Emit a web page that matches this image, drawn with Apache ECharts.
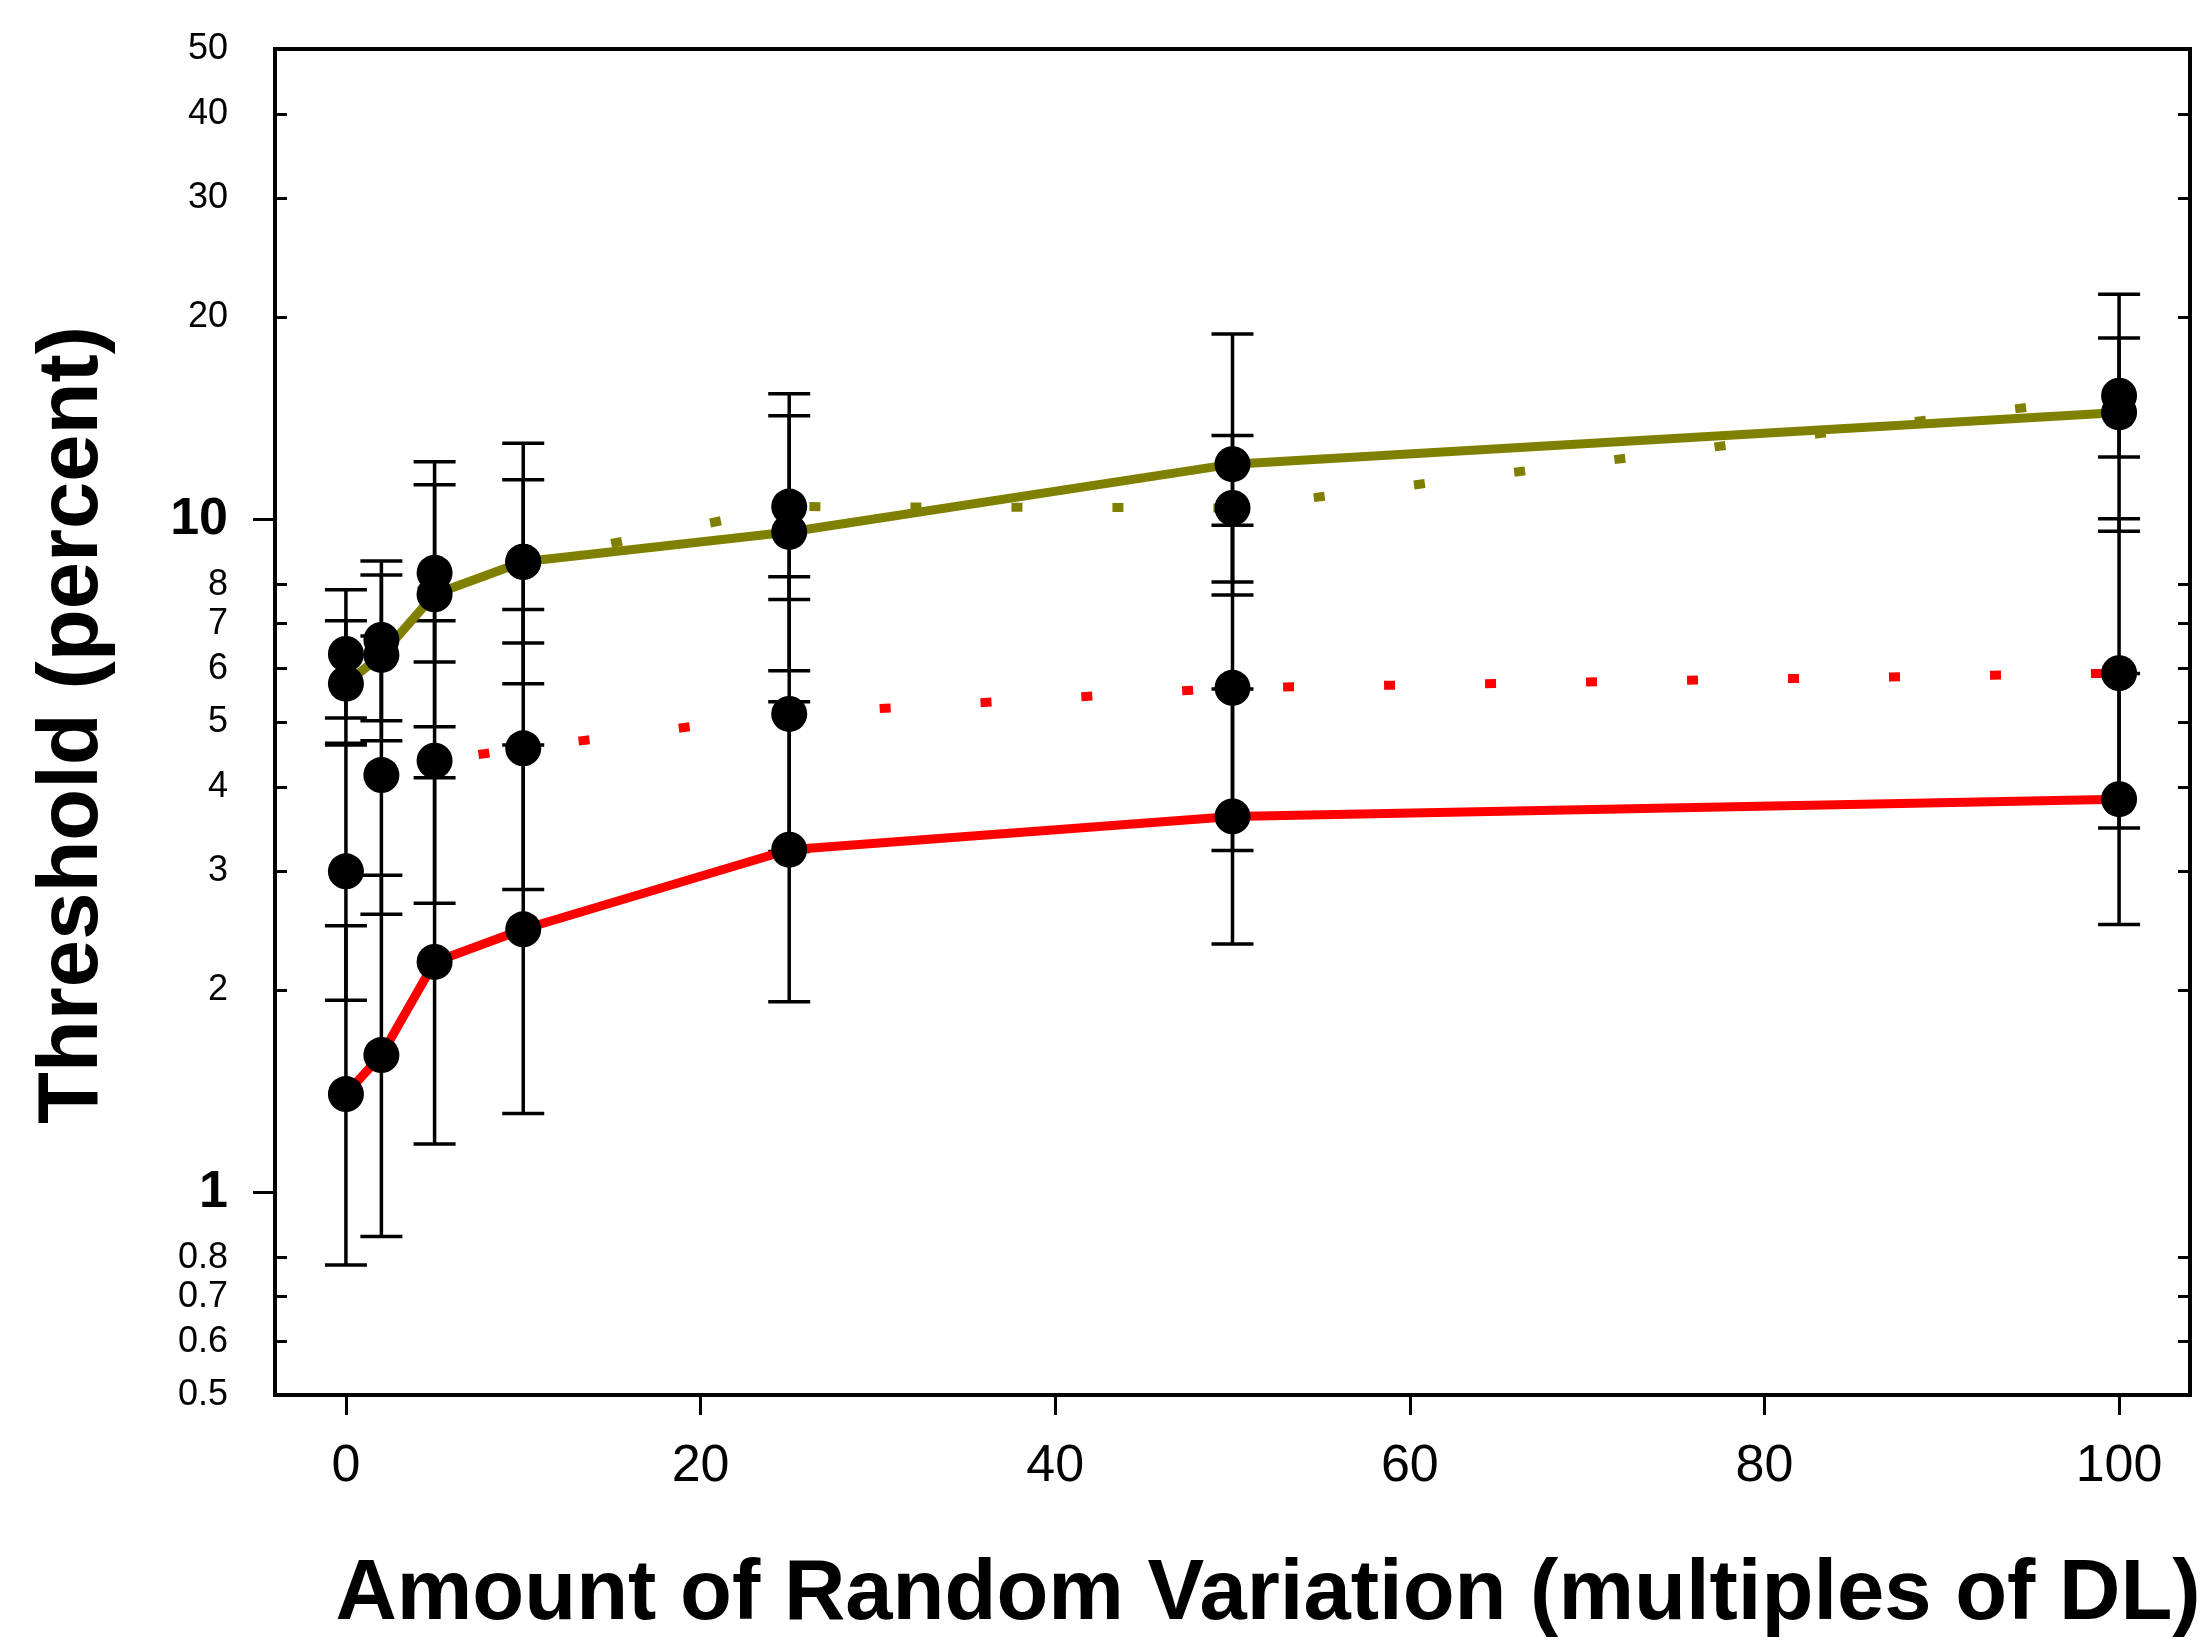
<!DOCTYPE html>
<html><head><meta charset="utf-8">
<script src="https://cdn.jsdelivr.net/npm/echarts@6/dist/echarts.min.js"></script>
<style>html,body{margin:0;padding:0;background:#fff}#c{width:2205px;height:1643px}</style>
</head><body><div id="c"></div><script>
// ---- data ----
const xValues = [0, 2, 5, 10, 25, 50, 100];

const oliveSolid     = [5.70, 6.29, 7.74, 8.65, 9.58, 12.08, 14.42];
const oliveSolidLow  = [4.62, 4.69, 4.92, 5.70, 5.96, 7.72, 9.60];
const oliveSolidHigh = [7.07, 8.27, 11.26, 12.98, 14.26, 18.86, 21.6];

const oliveDotted     = [6.31, 6.62, 8.33, 8.65, 10.45, 10.4, 15.27];
const oliveDottedLow  = [5.07, 5.02, 6.14, 6.55, 7.60, 8.07, 12.38];
const oliveDottedHigh = [7.86, 8.67, 12.18, 11.45, 15.37, 13.32, 18.6];

const redDotted     = [3.0, 4.17, 4.38, 4.57, 5.14, 5.62, 5.91];
const redDottedLow  = [1.93, 2.59, 2.69, 2.82, 3.21, 3.22, 3.48];
const redDottedHigh = [4.65, 6.71, 7.07, 7.35, 8.22, 9.80, 10.02];

const redSolid     = [1.40, 1.60, 2.20, 2.46, 3.23, 3.62, 3.84];
const redSolidLow  = [0.78, 0.86, 1.18, 1.31, 1.92, 2.34, 2.50];
const redSolidHigh = [2.49, 2.96, 4.13, 4.62, 5.36, 5.60, 5.90];

const xTickValues = [0, 20, 40, 60, 80, 100];
const yTickLabels = [0.5, 0.6, 0.7, 0.8, 1, 2, 3, 4, 5, 6, 7, 8, 10, 20, 30, 40, 50];
const yMajorTicks = [1, 10];
const yMinorTicks = [0.6, 0.7, 0.8, 2, 3, 4, 5, 6, 7, 8, 20, 30, 40];

const xTitle = 'Amount of Random Variation (multiples of DL)';
const yTitle = 'Threshold (percent)';

// ---- chart ----
const FONT = '"Liberation Sans", Arial, Helvetica, sans-serif';
const OLIVE = '#808000';
const RED = '#ff0000';
const Y_MIN = 0.5, Y_MAX = 50;
const LMIN = Math.log10(Y_MIN), LMAX = Math.log10(Y_MAX);

function pts(vals) { return xValues.map((x, i) => [x, vals[i]]); }
function bars(lo, hi) { return xValues.map((x, i) => [x, lo[i], hi[i]]); }

function errorSeries(lo, hi) {
  return {
    type: 'custom', xAxisIndex: 0, yAxisIndex: 0, z: 2,
    encode: { x: 0, y: [1, 2] },
    data: bars(lo, hi),
    renderItem: function (params, api) {
      const x = api.value(0);
      const a = api.coord([x, api.value(1)]);
      const b = api.coord([x, api.value(2)]);
      const hw = 21;
      const st = { stroke: '#000', lineWidth: 3.5 };
      return {
        type: 'group',
        children: [
          { type: 'line', shape: { x1: a[0], y1: a[1], x2: b[0], y2: b[1] }, style: st },
          { type: 'line', shape: { x1: a[0] - hw, y1: a[1], x2: a[0] + hw, y2: a[1] }, style: st },
          { type: 'line', shape: { x1: b[0] - hw, y1: b[1], x2: b[0] + hw, y2: b[1] }, style: st }
        ]
      };
    }
  };
}
function lineSeries(vals, color, dotted) {
  return {
    type: 'line', xAxisIndex: 0, yAxisIndex: 0, z: 3,
    data: pts(vals), symbol: 'none',
    lineStyle: { color: color, width: 9, type: dotted ? [11, 90] : 'solid', cap: 'butt', opacity: 1 }
  };
}
function dotSeries(vals) {
  return {
    type: 'scatter', xAxisIndex: 0, yAxisIndex: 0, z: 5,
    data: pts(vals), symbol: 'circle', symbolSize: 36,
    itemStyle: { color: '#000', opacity: 1 }
  };
}

function yLabelFor(v) {
  for (const t of yTickLabels) {
    if (Math.abs(Math.log10(t) - v) < 1e-6) {
      return yMajorTicks.indexOf(t) >= 0 ? '{b|' + t + '}' : '{n|' + t + '}';
    }
  }
  return '';
}

const hiddenAxisCommon = {
  type: 'value', min: LMIN, max: LMAX,
  splitLine: { show: false }, axisLine: { show: false, onZero: false }
};

const option = {
  animation: false,
  backgroundColor: '#fff',
  grid: {
    left: 275, right: 15, top: 49, bottom: 248,
    show: true, borderColor: '#000', borderWidth: 4, backgroundColor: 'transparent'
  },
  xAxis: [{
    type: 'value', min: -4, max: 104, position: 'bottom',
    splitLine: { show: false },
    axisLine: { show: false, onZero: false },
    axisTick: { show: true, inside: false, length: 20, customValues: xTickValues,
      lineStyle: { color: '#000', width: 3 } },
    axisLabel: { show: true, customValues: xTickValues, margin: 46,
      fontSize: 52, fontFamily: FONT, color: '#000' }
  }],
  yAxis: [
    { type: 'log', logBase: 10, min: Y_MIN, max: Y_MAX, position: 'left',
      splitLine: { show: false }, axisLine: { show: false, onZero: false },
      axisTick: { show: false }, axisLabel: { show: false } },
    Object.assign({}, hiddenAxisCommon, {
      position: 'left',
      axisTick: { show: true, inside: true, length: 12,
        customValues: yMinorTicks.map(v => Math.log10(v)),
        lineStyle: { color: '#000', width: 3 } },
      axisLabel: { show: true, margin: 47, showMinLabel: true, showMaxLabel: true,
        customValues: yTickLabels.map(v => Math.log10(v)),
        formatter: yLabelFor, color: '#000',
        rich: {
          b: { fontSize: 52, fontWeight: 'bold', fontFamily: FONT, color: '#000' },
          n: { fontSize: 36, fontFamily: FONT, color: '#000' }
        } }
    }),
    Object.assign({}, hiddenAxisCommon, {
      position: 'left',
      axisTick: { show: true, inside: false, length: 22,
        customValues: yMajorTicks.map(v => Math.log10(v)),
        lineStyle: { color: '#000', width: 3 } },
      axisLabel: { show: false }
    }),
    Object.assign({}, hiddenAxisCommon, {
      position: 'right',
      axisTick: { show: true, inside: true, length: 12,
        customValues: yMinorTicks.map(v => Math.log10(v)),
        lineStyle: { color: '#000', width: 3 } },
      axisLabel: { show: false }
    })
  ],
  graphic: [
    { type: 'text', x: 74, y: 725, rotation: Math.PI / 2, z: 10,
      style: { text: yTitle, font: 'bold 85px ' + FONT, fill: '#000',
        textAlign: 'center', textVerticalAlign: 'middle' } },
    { type: 'text', x: 1268, y: 1596, z: 10,
      style: { text: xTitle, font: 'bold 85px ' + FONT, fill: '#000',
        textAlign: 'center', textVerticalAlign: 'middle' } }
  ],
  series: [
    errorSeries(oliveSolidLow, oliveSolidHigh),
    errorSeries(oliveDottedLow, oliveDottedHigh),
    errorSeries(redDottedLow, redDottedHigh),
    errorSeries(redSolidLow, redSolidHigh),
    lineSeries(oliveSolid, OLIVE, false),
    lineSeries(oliveDotted, OLIVE, true),
    lineSeries(redDotted, RED, true),
    lineSeries(redSolid, RED, false),
    dotSeries(oliveSolid),
    dotSeries(oliveDotted),
    dotSeries(redDotted),
    dotSeries(redSolid)
  ]
};

const chart = echarts.init(document.getElementById('c'), null, { renderer: 'canvas' });
chart.setOption(option);
</script></body></html>
